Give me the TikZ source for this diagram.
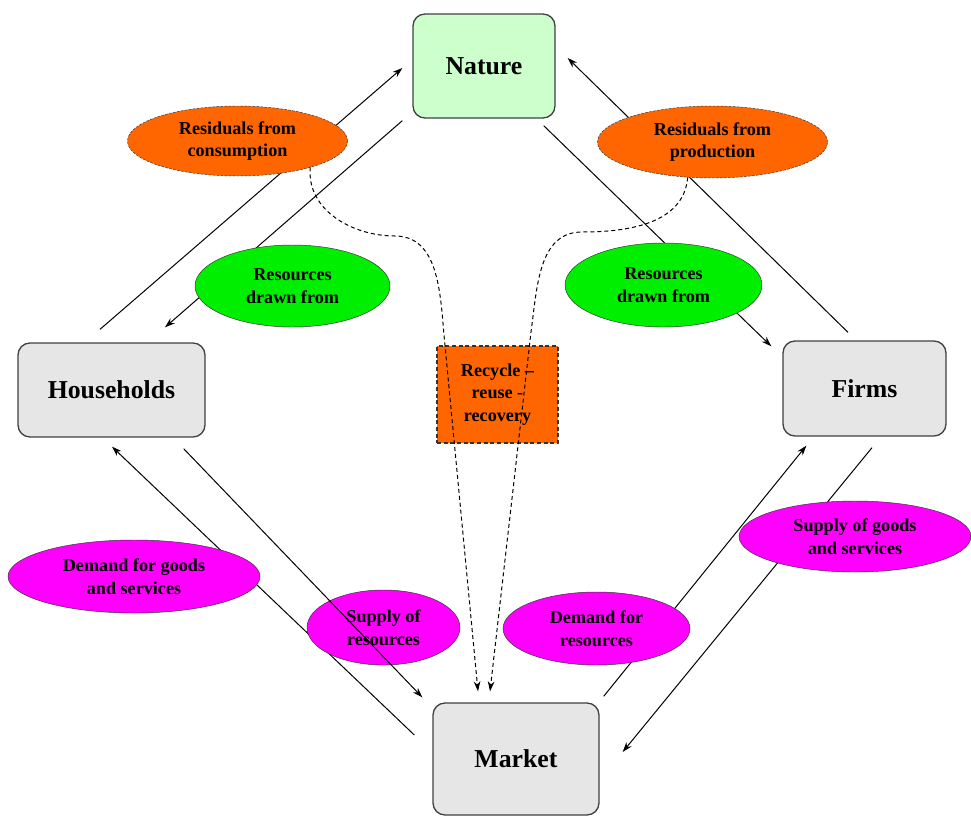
\documentclass[tikz,border=0pt]{standalone}
\usepackage{fontspec}
\setmainfont{Liberation Serif}
\usetikzlibrary{arrows.meta,shapes.geometric,calc}
\definecolor{natfill}{HTML}{CCFFCC}
\definecolor{boxgray}{HTML}{E6E6E6}
\definecolor{orng}{HTML}{FF6600}
\definecolor{lime}{HTML}{00EE00}
\definecolor{magn}{HTML}{FF00FF}
\tikzset{
  sector/.style 2 args = { draw=black!75, line width=0.4mm, rounded corners=3.6mm, fill=boxgray,
    minimum width=#1*0.3mm, minimum height=#2*0.3mm, font=\fontsize{22}{26}\selectfont\bfseries },
  bubble/.style 2 args = { draw=black!80, ellipse, inner sep=0pt, align=center,
    minimum width=#1*0.3mm, minimum height=#2*0.3mm, font=\fontsize{15.5}{19.5}\selectfont\bfseries },
  recbox/.style = { draw=black!80, fill=orng, dash pattern=on 1.2mm off 0.8mm, line width=0.35mm,
    minimum width=121*0.3mm, minimum height=97*0.3mm, align=center, font=\fontsize{15.5}{19.5}\selectfont\bfseries },
  flow/.style = { -{Stealth[length=3mm,width=2mm]}, line width=0.3mm },
  loopback/.style = { flow, dash pattern=on 1.2mm off 0.9mm }
}
\begin{document}
\begin{tikzpicture}[x=0.3mm,y=-0.3mm]
  \useasboundingbox (0,0) rectangle (971,817);
  % sectors
  \node[sector={142}{104}, fill=natfill] (nat) at (484,66) {Nature};
  \node[sector={187}{94}] (hh) at (111.5,390) {Households};
  \node[sector={163}{95}] (firm) at (864.5,388.5) {Firms};
  \node[sector={166}{112}] (mkt) at (516,759) {Market};
  \node[recbox] (rec) at (497.5,394.5) {Recycle –\\reuse -\\recovery};

  \draw[flow] ($(hh.north)+(-11.5,-13)$) -- ($(nat.west)+(-10,2)$);
  \draw[flow] ($(nat.south west)+(-10,2)$) -- ($(hh.north)+(53.5,-15)$);
  \draw[flow] ($(nat.south east)+(-12,7)$) -- ($(firm.north west)+(-11,6)$);
  \draw[flow] ($(firm.north)+(-16.5,-8)$) -- ($(nat.east)+(12,-8)$);
  \draw[flow] ($(mkt.west)+(-18,-24)$) -- ($(hh.south)+(0.5,9)$);
  \draw[flow] ($(mkt.north east)+(4,-6)$) -- ($(firm.south west)+(24,9)$);
  \draw[flow] ($(firm.south)+(7.5,11)$) -- ($(mkt.east)+(23,-7)$);

  \node[bubble={220}{70}, fill=orng, dash pattern=on 0.8mm off 0.4mm] (rc) at (237.5,141) {Residuals from\\consumption};
  \node[bubble={230}{72}, fill=orng, dash pattern=on 0.8mm off 0.4mm] (rp) at (712.5,142) {Residuals from\\production};
  \node[bubble={195}{82}, fill=lime] (rdl) at (292.5,286) {Resources\\drawn from};
  \node[bubble={197}{84}, fill=lime] (rdr) at (663.5,285) {Resources\\drawn from};
  \node[bubble={252}{73}, fill=magn] (dg) at (134,576.5) {Demand for goods\\and services};
  \node[bubble={153}{75}, fill=magn] (sr) at (383.5,627.5) {Supply of\\resources};
  \node[bubble={187}{73}, fill=magn] (dr) at (596.5,628.5) {Demand for\\resources};
  \node[bubble={232}{71}, fill=magn] (sg) at (855,536.5) {Supply of goods\\and services};

  \draw[flow] ($(hh.south east)+(-22,11)$) -- ($(mkt.north west)+(-10,-5)$);

  \draw[loopback] (rc.-20) to[out=-95,in=180] (395,236) to[out=0,in=95] (444,335) -- ($(mkt.north)+(-38,-11)$);
  \draw[loopback] (rp.235) to[out=-95,in=0] (582,232) to[out=180,in=82] (531,332) -- ($(mkt.north)+(-26,-11)$);
\end{tikzpicture}
\end{document}
